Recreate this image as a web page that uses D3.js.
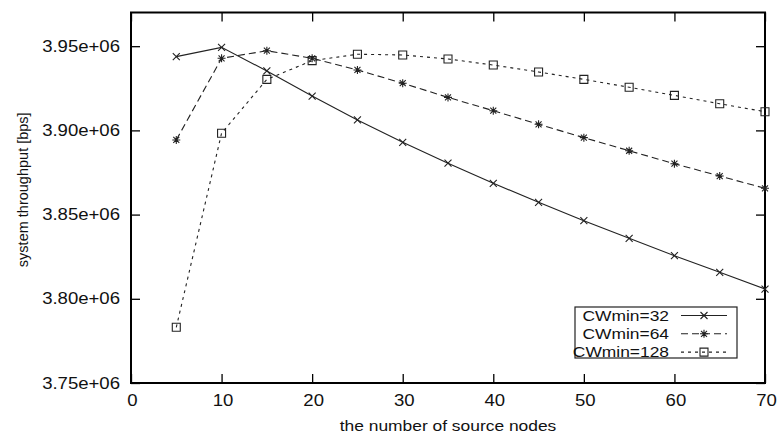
<!DOCTYPE html>
<meta charset="utf-8">
<head>
  <title>system throughput vs number of source nodes</title>
</head>

<style>
body { margin: 0; background: #fff; }
svg { display: block; }
text { font-family: "Liberation Sans", Arial, sans-serif; font-size: 15px; fill: #111; }
.axis text { font-size: 16px; }
.axis path, .axis line { stroke: #000; stroke-width: 1.3; }
.series { fill: none; stroke: #222; stroke-width: 1.1; }
.mark { fill: none; stroke: #222; stroke-width: 1.1; }
</style>

<body>
  <svg width="777" height="436"></svg>

  <script src="https://cdnjs.cloudflare.com/ajax/libs/d3/7.8.5/d3.min.js"></script>

  <script>
var nodes = [5, 10, 15, 20, 25, 30, 35, 40, 45, 50, 55, 60, 65, 70]

// throughput in bps
var cw32 = [3.9438e6, 3.9493e6, 3.9353e6, 3.9204e6, 3.9062e6, 3.8929e6, 3.8805e6,
            3.8686e6, 3.8573e6, 3.8464e6, 3.8359e6, 3.8256e6, 3.8157e6, 3.8058e6]
var cw64 = [3.8943e6, 3.9428e6, 3.9473e6, 3.9428e6, 3.9359e6, 3.9280e6, 3.9196e6,
            3.9117e6, 3.9036e6, 3.8957e6, 3.8879e6, 3.8802e6, 3.8729e6, 3.8656e6]
var cw128 = [3.7831e6, 3.8983e6, 3.9303e6, 3.9414e6, 3.9452e6, 3.9448e6, 3.9424e6,
             3.9388e6, 3.9347e6, 3.9303e6, 3.9256e6, 3.9208e6, 3.9158e6, 3.9111e6]

var seriesNames = ['CWmin=32', 'CWmin=64', 'CWmin=128']
var xTicks = [0, 10, 20, 30, 40, 50, 60, 70]
var yTicks = [3.75e6, 3.80e6, 3.85e6, 3.90e6, 3.95e6]

var width = 777, height = 436
var margin = {top: 12.5, right: 12, bottom: 53, left: 131}
var sx = 1.16  // the original picture is a bit stretched sideways

var svg = d3.select('svg')
var g = svg.append('g').attr('transform', 'translate(' + margin.left + ',' + margin.top + ')')
var w = width - margin.left - margin.right
var h = height - margin.top - margin.bottom

var x = d3.scaleLinear().domain([0, 70]).range([0, w])
var y = d3.scaleLinear().domain([3.75e6, 3.97e6]).range([h, 0])

var yFmt = function(d) { return (d / 1e6).toFixed(2) + 'e+06' }

// axes, ticks drawn inward and mirrored
g.append('g').attr('class', 'axis')
  .call(d3.axisLeft(y).tickValues(yTicks).tickFormat(yFmt).tickSizeInner(-9).tickSizeOuter(0).tickPadding(11))
  .call(function(a) {
    a.select('.domain').remove()
    a.selectAll('text').attr('x', -11 / sx).attr('transform', 'scale(' + sx + ',1)')
  })

g.append('g').attr('class', 'axis')
  .attr('transform', 'translate(' + w + ',0)')
  .call(d3.axisRight(y).tickValues(yTicks).tickFormat('').tickSizeInner(-9).tickSizeOuter(0))
  .call(function(a) { a.select('.domain').remove() })

g.append('g').attr('class', 'axis')
  .attr('transform', 'translate(0,' + h + ')')
  .call(d3.axisBottom(x).tickValues(xTicks).tickSizeInner(-9).tickSizeOuter(0).tickPadding(12))
  .call(function(a) {
    a.select('.domain').remove()
    a.selectAll('text').attr('x', 1 / sx).attr('transform', 'scale(' + sx + ',1)')
  })

g.append('g').attr('class', 'axis')
  .call(d3.axisTop(x).tickValues(xTicks).tickFormat('').tickSizeInner(-9).tickSizeOuter(0))
  .call(function(a) { a.select('.domain').remove() })

// border
g.append('rect')
  .attr('width', w).attr('height', h)
  .attr('fill', 'none').attr('stroke', '#000').attr('stroke-width', 2)

// axis titles
g.append('text')
  .attr('text-anchor', 'middle')
  .attr('transform', 'translate(' + (w / 2) + ',' + (h + 48) + ') scale(' + sx + ',1)')
  .text('the number of source nodes')

g.append('text')
  .attr('text-anchor', 'middle')
  .style('font-size', '14.5px')
  .attr('transform', 'translate(' + (28 - margin.left) + ',' + (h / 2 - 8) + ') rotate(-90)')
  .text('system throughput [bps]')

// markers
function cross(s) { return 'M' + -s + ',' + -s + 'L' + s + ',' + s + 'M' + -s + ',' + s + 'L' + s + ',' + -s }
function star(s) { return cross(s * 0.75) + 'M0,' + -s + 'L0,' + s + 'M' + -s + ',0L' + s + ',0' }
function square(s) { return 'M' + -s + ',' + -s + 'H' + s + 'V' + s + 'H' + -s + 'Z' }

var series = [
  {name: seriesNames[0], values: cw32, dash: null, mark: cross(3.5)},
  {name: seriesNames[1], values: cw64, dash: '7,4', mark: star(4)},
  {name: seriesNames[2], values: cw128, dash: '3,4', mark: square(4)}
]

var line = d3.line()
  .x(function(d, i) { return x(nodes[i]) })
  .y(function(d) { return y(d) })

series.forEach(function(s) {
  g.append('path')
    .attr('class', 'series')
    .attr('d', line(s.values))
    .attr('stroke-dasharray', s.dash)

  g.selectAll(null)
    .data(s.values)
    .enter()
    .append('path')
    .attr('class', 'mark')
    .attr('transform', function(d, i) { return 'translate(' + x(nodes[i]) + ',' + y(d) + ')' })
    .attr('d', s.mark)
})

// legend
var lg = svg.append('g').attr('transform', 'translate(575,307)')
lg.append('rect')
  .attr('width', 162).attr('height', 51)
  .attr('fill', '#fff').attr('stroke', '#222').attr('stroke-width', 1.2)

series.forEach(function(s, i) {
  var cy = 8.5 + i * 18.3
  lg.append('text')
    .attr('text-anchor', 'end')
    .attr('dy', '0.35em')
    .attr('transform', 'translate(94,' + cy + ') scale(' + sx + ',1)')
    .text(s.name)
  lg.append('line')
    .attr('class', 'series')
    .attr('x1', 106).attr('x2', 152).attr('y1', cy).attr('y2', cy)
    .attr('stroke-dasharray', s.dash)
  lg.append('path')
    .attr('class', 'mark')
    .attr('transform', 'translate(129,' + cy + ')')
    .attr('d', s.mark)
})
  </script>
</body>
</html>
